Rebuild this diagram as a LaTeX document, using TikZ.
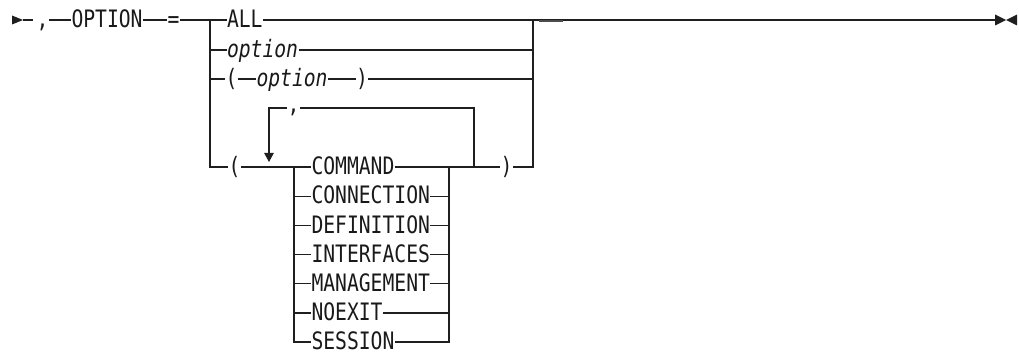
\documentclass[tikz,border=0pt]{standalone}
\usepackage{fontspec}
\newfontfamily\dfont[FakeStretch=0.82]{DejaVu Sans Mono}
\usetikzlibrary{arrows.meta}
\begin{document}
\begin{tikzpicture}[x=1pt,y=-1pt,
  ln/.style={line width=1.1pt, draw=black!88},
  lbl/.style={inner xsep=0.3pt, inner ysep=0pt, text height=17.4pt, text depth=2pt, anchor=west, text=black!90},
  kw/.style={lbl, font=\dfont\fontsize{24}{24}\selectfont},
  var/.style={lbl, font=\dfont\itshape\fontsize{24}{24}\selectfont},
  endmark/.style={fill=black!88}
]
\useasboundingbox (0,0) rectangle (1019,352);
% ---- main row
\coordinate (s0) at (23,20);
\coordinate (s1) at (33,20);
\fill[endmark] (12,15.5) -- (s0) -- (12,24.5) -- cycle;
\node[kw] (c1) at (36,20) {,};
\node[kw] (opt) at (71,20) {OPTION};
\node[kw] (eq) at (167,20) {=};
\coordinate (J1) at (210,20);
\node[kw] (all) at (226.5,20) {ALL};
\coordinate (J2) at (533,20);
\coordinate (e0) at (995,20);
\coordinate (e1) at (1006,20);
\draw[ln] (s0) -- (s1);
\draw[ln] (c1.east) -- (opt.west);
\draw[ln] (opt.east) -- (eq.west);
\draw[ln] (eq.east) -- (J1) -- (all.west);
\draw[ln] (all.east) -- (J2) -- (e0);
\draw[line width=2pt, black!70] (539,21) -- (563,21);
\fill[endmark] (995,14.5) -- (e1) -- (995,25.5) -- cycle;
\fill[endmark] (1017,14.5) -- (e1) -- (1017,25.5) -- cycle;
% ---- row 2
\coordinate (L2) at (210,50);
\coordinate (R2) at (533,50);
\node[var] (o1) at (226.5,50) {option};
\draw[ln] (L2) -- (o1.west);
\draw[ln] (o1.east) -- (R2);
% ---- row 3
\coordinate (L3) at (210,79);
\coordinate (R3) at (533,79);
\node[kw] (p1) at (225,79) {(};
\node[var] (o2) at (256,79) {option};
\node[kw] (p2) at (355.5,79) {)};
\draw[ln] (L3) -- (p1.west);
\draw[ln] (p1.east) -- (o2.west);
\draw[ln] (o2.east) -- (p2.west);
\draw[ln] (p2.east) -- (R3);
% ---- row 4
\coordinate (L4) at (210,167);
\coordinate (R4) at (533,167);
\node[kw] (p3) at (228,167) {(};
\node[kw] (p4) at (500,167) {)};
\coordinate (IL) at (294,167);
\coordinate (IR) at (449,167);
\coordinate (RB) at (474,167);
\draw[ln] (J1) -- (L4) -- (p3.west);
\draw[ln] (J2) -- (R4) -- (p4.east);
\node[kw] (k1) at (311,167) {COMMAND};
\node[kw] (k2) at (311,196.2) {CONNECTION};
\node[kw] (k3) at (311,225.4) {DEFINITION};
\node[kw] (k4) at (311,254.6) {INTERFACES};
\node[kw] (k5) at (311,283.8) {MANAGEMENT};
\node[kw] (k6) at (311,313) {NOEXIT};
\node[kw] (k7) at (311,342) {SESSION};
\coordinate (ILb) at (294,342);
\coordinate (IRb) at (449,342);
\draw[ln] (p3.east) -- (IL) -- (k1.west);
\draw[ln] (k1.east) -- (IR) -- (RB) -- (p4.west);
\draw[ln] (IL) -- (ILb) -- (k7.west);
\draw[ln] (IR) -- (IRb) -- (k7.east);
\foreach \k in {k2,k3,k4,k5,k6}{
  \draw[ln] (IL |- \k.west) -- (\k.west);
  \draw[ln] (\k.east) -- (IR |- \k.east);
}
% ---- repeat loop
\coordinate (LT) at (269,108);
\coordinate (RT) at (474,108);
\coordinate (AT) at (269,162);
\node[kw] (c2) at (287,105) {,};
\draw[ln] (RB) -- (RT) -- (RT -| c2.east);
\draw[ln, -{Triangle[length=9pt,width=9.5pt]}] (LT -| c2.west) -- (LT) -- (AT);
\end{tikzpicture}
\end{document}
